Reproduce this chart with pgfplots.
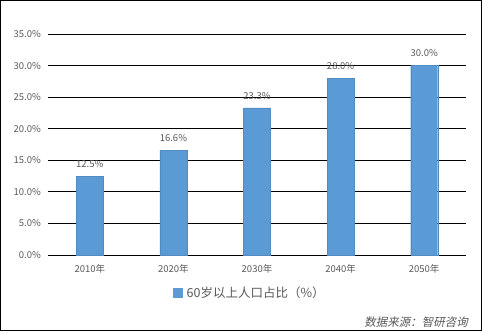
\documentclass[border=0pt]{standalone}
\usepackage{pgfplots}
\pgfplotsset{compat=1.18}
\usepackage{fontspec}
\setmainfont{Noto Sans CJK SC}
\newfontfamily\srcfont[FakeSlant=0.2]{Noto Sans CJK SC}
\definecolor{barblue}{HTML}{5B9BD5}
\definecolor{txtgray}{HTML}{595959}
\begin{document}
\begin{tikzpicture}
\useasboundingbox (0,0) rectangle (482pt,331pt);
\fill[white] (0,0) rectangle (482pt,331pt);
\draw[black, line width=1pt] (0.5pt,0.5pt) rectangle (481.5pt,330.5pt);
\begin{axis}[
  at={(48pt,76pt)}, anchor=south west,
  scale only axis, width=418pt, height=221pt,
  xmin=-0.5, xmax=4.5, ymin=0, ymax=35,
  xtick={0,1,2,3,4},
  xticklabels={2010年,2020年,2030年,2040年,2050年},
  ytick={0,5,10,15,20,25,30,35},
  yticklabels={0.0\%,5.0\%,10.0\%,15.0\%,20.0\%,25.0\%,30.0\%,35.0\%},
  major tick length=0pt,
  axis line style={draw=none},
  ymajorgrids, grid style={black, line width=0.9pt},
  tick label style={font=\fontsize{9.5}{11}\selectfont, text=txtgray},
  yticklabel style={inner sep=0pt, xshift=-7pt},
  xticklabel style={inner sep=0pt, yshift=-9pt},
  legend style={at={(0.483,-0.172)}, anchor=center, draw=none, fill=none,
    font=\fontsize{12.5}{14}\selectfont, text=txtgray},
  legend image code/.code={\fill[barblue] (0pt,-4.5pt) rectangle (9pt,4.5pt);},
  legend cell align=left,
  legend style={/tikz/every even column/.append style={column sep=2pt}},
  nodes near coords={\pgfmathprintnumber[fixed,fixed zerofill,precision=1,assume math mode=true]{\pgfplotspointmeta}\%},
  nodes near coords style={font=\fontsize{9.5}{11}\selectfont, text=txtgray, yshift=5pt},
  clip=false,
]
\addplot[ybar, bar width=27pt, fill=barblue, draw=barblue!90!black, line width=0.4pt]
  coordinates {(0,12.5) (1,16.6) (2,23.3) (3,28.0) (4,30.0)};
\addlegendentry{\hspace{2pt}60岁以上人口占比（\%）}
\end{axis}
\node[anchor=east, inner sep=0pt, text=txtgray] at (468pt,9pt) {\srcfont\fontsize{11.5}{13}\selectfont 数据来源：智研咨询};
\end{tikzpicture}
\end{document}
